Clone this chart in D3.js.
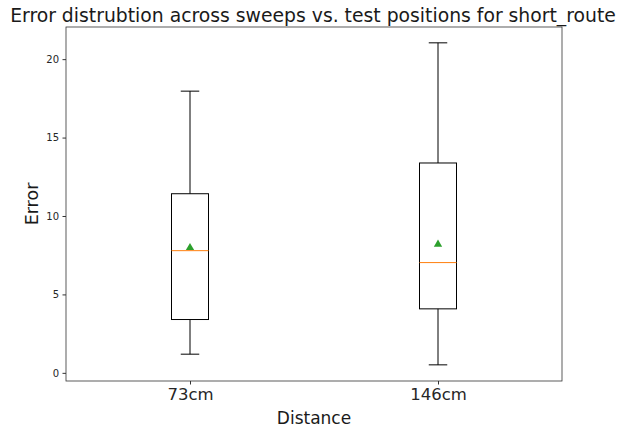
<!DOCTYPE html>
<html><head><meta charset="utf-8">
<script src="https://cdn.jsdelivr.net/npm/d3@7"></script>
<style>body{margin:0;background:#fff;} text{font-family:"DejaVu Sans",sans-serif;}</style>
</head><body>
<svg id="c" width="630" height="427"></svg>
<script>
const categories = ["73cm", "146cm"];
const whiskerLow = [1.19, 0.51];
const q1 = [3.40, 4.08];
const median = [7.79, 7.03];
const q3 = [11.42, 13.38];
const whiskerHigh = [17.96, 21.04];
const means = [7.98, 8.2];
const yTicks = [0, 5, 10, 15, 20];

const svg = d3.select("#c");
const L = 66, R = 562, T = 27, B = 381;
const y = d3.scaleLinear().domain([-0.52, 22.05]).range([B, T]);
const x = d3.scalePoint().domain(categories).range([L, R]).padding(0.5);
const bw = 37;

const data = categories.map((c, i) => ({c, lo: whiskerLow[i], q1: q1[i], med: median[i], q3: q3[i], hi: whiskerHigh[i], mean: means[i]}));

const g = svg.append("g");
data.forEach(d => {
  const cx = x(d.c);
  g.append("line").attr("x1", cx).attr("x2", cx).attr("y1", y(d.q3)).attr("y2", y(d.hi)).attr("stroke", "#000").attr("stroke-width", 1);
  g.append("line").attr("x1", cx).attr("x2", cx).attr("y1", y(d.q1)).attr("y2", y(d.lo)).attr("stroke", "#000").attr("stroke-width", 1);
  g.append("line").attr("x1", cx - bw/4).attr("x2", cx + bw/4).attr("y1", y(d.hi)).attr("y2", y(d.hi)).attr("stroke", "#000");
  g.append("line").attr("x1", cx - bw/4).attr("x2", cx + bw/4).attr("y1", y(d.lo)).attr("y2", y(d.lo)).attr("stroke", "#000");
  g.append("rect").attr("x", cx - bw/2).attr("y", y(d.q3)).attr("width", bw).attr("height", y(d.q1) - y(d.q3)).attr("fill", "none").attr("stroke", "#000");
  g.append("line").attr("x1", cx - bw/2).attr("x2", cx + bw/2).attr("y1", y(d.med)).attr("y2", y(d.med)).attr("stroke", "#ff7f0e").attr("stroke-width", 1);
  g.append("path").attr("d", d3.symbol().type(d3.symbolTriangle).size(30)()).attr("transform", `translate(${cx},${y(d.mean)})`).attr("fill", "#2ca02c");
});

// axes
const ya = svg.append("g").attr("transform", `translate(${L},0)`).call(d3.axisLeft(y).tickValues(yTicks).tickSize(3.5).tickPadding(3.5));
ya.selectAll("text").attr("font-size", 10).attr("fill", "#262626").style("font-family", "DejaVu Sans");
ya.select(".domain").remove();
const xa = svg.append("g").attr("transform", `translate(0,${B})`).call(d3.axisBottom(x).tickSize(3.5).tickPadding(3.5));
xa.selectAll("text").attr("font-size", 16.5).attr("fill", "#262626").style("font-family", "DejaVu Sans");
xa.select(".domain").remove();
svg.selectAll(".tick line").attr("stroke", "#333");
svg.append("rect").attr("x", L).attr("y", T).attr("width", R - L).attr("height", B - T).attr("fill", "none").attr("stroke", "#333").attr("stroke-width", 0.8);

svg.append("text").attr("x", (L + R)/2 - 1).attr("y", 22).attr("text-anchor", "middle").attr("font-size", 18.8).attr("fill", "#1a1a1a").text("Error distrubtion across sweeps vs. test positions for short_route");
svg.append("text").attr("x", (L + R)/2).attr("y", 424).attr("text-anchor", "middle").attr("font-size", 17).attr("fill", "#1a1a1a").text("Distance");
svg.append("text").attr("transform", `translate(38,${(T + B)/2}) rotate(-90)`).attr("text-anchor", "middle").attr("font-size", 17.5).attr("fill", "#1a1a1a").text("Error");
</script>
</body></html>
